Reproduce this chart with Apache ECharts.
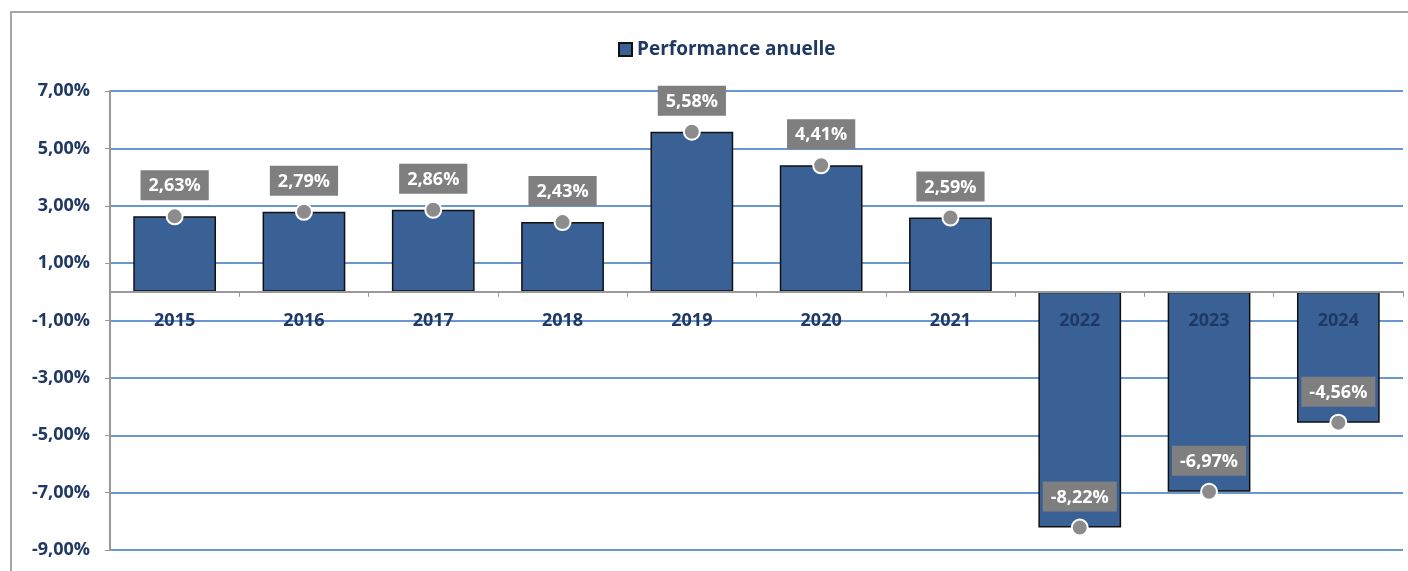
<!DOCTYPE html>
<html>
<head>
<meta charset="utf-8">
<script src="https://cdn.jsdelivr.net/npm/echarts@6/dist/echarts.min.js"></script>
<style>
  html, body { margin: 0; padding: 0; background: #fff; }
  #chart { width: 1408px; height: 571px; }
</style>
</head>
<body>
<div id="chart"></div>
<script>
const years = ['2015', '2016', '2017', '2018', '2019', '2020', '2021', '2022', '2023', '2024']
const performance = [2.63, 2.79, 2.86, 2.43, 5.58, 4.41, 2.59, -8.22, -6.97, -4.56]
const seriesName = 'Performance anuelle'

const navy = '#1F3864'
const fmt = v => v.toFixed(2).replace('.', ',') + '%'

const chart = echarts.init(document.getElementById('chart'))

chart.setOption({
  animation: false,
  textStyle: { fontFamily: 'Open Sans' },
  graphic: [{
    type: 'rect',
    z: -10,
    shape: { x: 11, y: 12, width: 1420, height: 600 },
    style: { fill: 'none', stroke: '#a6a6a6', lineWidth: 2 },
  }],
  legend: {
    data: [seriesName],
    top: 35,
    left: 613,
    icon: 'rect',
    itemWidth: 13,
    itemHeight: 13,
    itemGap: 7,
    textStyle: { color: navy, fontWeight: 'bold', fontSize: 19 },
  },
  grid: { left: 110, right: 5, top: 91, bottom: 21, outerBoundsMode: 'none', containLabel: false },
  xAxis: {
    type: 'category',
    data: years,
    axisLine: { onZero: true, lineStyle: { color: '#999', width: 2 } },
    axisTick: { show: true, length: 5, lineStyle: { color: '#999' } },
    // labels sit just under the zero line, like the original
    axisLabel: { color: navy, fontWeight: 'bold', fontSize: 18, margin: -238 },
    z: 5,
  },
  yAxis: {
    type: 'value',
    min: -9,
    max: 7,
    interval: 2,
    axisLine: { show: true, lineStyle: { color: '#999', width: 2 } },
    axisTick: { show: true, length: 5, lineStyle: { color: '#999' } },
    axisLabel: { color: navy, fontWeight: 'bold', fontSize: 18, margin: 20, formatter: fmt },
    splitLine: { lineStyle: { color: '#6a96d2', width: 2 } },
  },
  series: [
    {
      name: seriesName,
      type: 'bar',
      data: performance,
      barCategoryGap: '36%',
      itemStyle: { color: '#3A6196', borderColor: '#111', borderWidth: 1.5 },
      z: 2,
    },
    {
      name: 'marker',
      type: 'scatter',
      data: performance,
      symbol: 'circle',
      symbolSize: 16,
      itemStyle: { color: '#8c8c8c', borderColor: '#fff', borderWidth: 2, opacity: 1 },
      label: {
        show: true,
        position: 'top',
        distance: 7,
        formatter: p => fmt(p.value),
        color: '#fff',
        fontWeight: 'bold',
        fontSize: 18,
        backgroundColor: '#7f7f7f',
        padding: [7, 8, 5, 8],
      },
      z: 10,
    },
  ],
})
</script>
</body>
</html>
